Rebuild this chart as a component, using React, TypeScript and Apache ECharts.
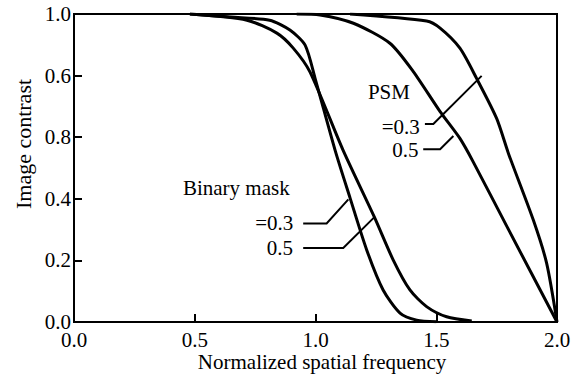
import React, { useEffect, useRef } from "react";
import * as echarts from "echarts";

const FONT = "Liberation Serif";
const FS = 21;

const xTickLabels = ["0.0", "0.5", "1.0", "1.5", "2.0"];
const yTickLabels = ["0.0", "0.2", "0.4", "0.8", "0.6", "1.0"];

const binary03X = [0.48, 0.65, 0.81, 0.894, 0.957, 0.998, 1.081, 1.143, 1.212, 1.28, 1.35, 1.419, 1.5];
const binary03Y = [1.0, 0.99, 0.98, 0.948, 0.899, 0.792, 0.558, 0.403, 0.234, 0.104, 0.029, 0.006, 0.001];

const binary05X = [0.48, 0.716, 0.84, 0.907, 0.977, 1.114, 1.243, 1.322, 1.391, 1.46, 1.543, 1.647];
const binary05Y = [1.0, 0.98, 0.938, 0.89, 0.812, 0.558, 0.342, 0.201, 0.104, 0.05, 0.017, 0.003];

const psm05X = [0.922, 1.019, 1.157, 1.308, 1.405, 1.516, 1.598, 1.653, 1.8, 2.0];
const psm05Y = [1.0, 0.997, 0.97, 0.905, 0.813, 0.683, 0.596, 0.52, 0.299, 0.0];

const psm03X = [1.143, 1.46, 1.516, 1.598, 1.667, 1.75, 1.8, 1.902, 1.957, 2.0];
const psm03Y = [1.0, 0.977, 0.954, 0.889, 0.791, 0.661, 0.545, 0.331, 0.191, 0.0];

// annotation texts (data coords) and leader lines
const labelTexts = [
  { text: "Binary mask", at: [0.451, 0.435], align: "left" },
  { text: "=0.3", at: [0.908, 0.32], align: "right" },
  { text: "0.5", at: [0.907, 0.239], align: "right" },
  { text: "PSM", at: [1.217, 0.747], align: "left" },
  { text: "=0.3", at: [1.432, 0.634], align: "right" },
  { text: "0.5", at: [1.426, 0.558], align: "right" },
];
const leaders = [
  [[0.949, 0.32], [1.046, 0.32], [1.136, 0.398]],
  [[0.949, 0.24], [1.115, 0.24], [1.246, 0.342]],
  [[1.453, 0.643], [1.488, 0.643], [1.688, 0.799]],
  [[1.446, 0.561], [1.516, 0.561], [1.571, 0.604]],
];

const zip = (xs: number[], ys: number[]) => xs.map((x, i) => [x, ys[i]]);

export default function App() {
  const ref = useRef<HTMLDivElement>(null);
  useEffect(() => {
    const chart = echarts.init(ref.current!, null, { renderer: "svg" });
    const lineSeries = (name: string, xs: number[], ys: number[]) => ({
      name,
      type: "line",
      data: zip(xs, ys),
      showSymbol: false,
      symbol: "none",
      smooth: 0.25,
      lineStyle: { color: "#000", width: 3 },
      z: 3,
    });
    chart.setOption({
      animation: false,
      backgroundColor: "#fff",
      textStyle: { fontFamily: FONT },
      grid: {
        left: 74,
        right: 19,
        top: 14,
        bottom: 54,
        show: true,
        borderColor: "#000",
        borderWidth: 2,
        backgroundColor: "transparent",
      },
      xAxis: {
        type: "value",
        min: 0,
        max: 2,
        interval: 0.5,
        axisLine: { lineStyle: { color: "#000", width: 2 } },
        axisTick: { inside: true, length: 8, lineStyle: { color: "#000", width: 2 } },
        splitLine: { show: false },
        axisLabel: {
          color: "#000",
          fontFamily: FONT,
          fontSize: FS,
          lineHeight: 16,
          margin: 10,
          formatter: (v: number) => xTickLabels[Math.round(v / 0.5)] ?? "",
        },
      },
      yAxis: {
        type: "value",
        min: 0,
        max: 1,
        interval: 0.2,
        axisLine: { show: true, lineStyle: { color: "#000", width: 2 } },
        axisTick: { show: true, inside: true, length: 8, lineStyle: { color: "#000", width: 2 } },
        splitLine: { show: false },
        axisLabel: {
          color: "#000",
          fontFamily: FONT,
          fontSize: FS,
          lineHeight: 16,
          margin: 3,
          formatter: (v: number) => yTickLabels[Math.round(v / 0.2)] ?? "",
        },
      },
      series: [
        lineSeries("Binary mask σ=0.3", binary03X, binary03Y),
        lineSeries("Binary mask σ=0.5", binary05X, binary05Y),
        lineSeries("PSM σ=0.3", psm03X, psm03Y),
        lineSeries("PSM σ=0.5", psm05X, psm05Y),
      ],
    });

    const px = (p: number[]) => chart.convertToPixel({ gridIndex: 0 }, p) as number[];
    const graphic: any[] = [];
    const textStyle = (text: string, align: string) => ({
      text,
      fill: "#000",
      fontFamily: FONT,
      fontSize: FS,
      textAlign: align,
      textVerticalAlign: "middle",
    });
    labelTexts.forEach((l) => {
      const [x, y] = px(l.at);
      graphic.push({ type: "text", x, y, style: textStyle(l.text, l.align), z: 10 });
    });
    leaders.forEach((pts) => {
      graphic.push({
        type: "polyline",
        shape: { points: pts.map(px) },
        style: { stroke: "#000", lineWidth: 2, fill: null },
        z: 10,
      });
    });
    graphic.push({
      type: "text",
      x: 23,
      y: 144,
      rotation: Math.PI / 2,
      style: { ...textStyle("Image contrast", "center"), fontSize: 22 },
    });
    graphic.push({
      type: "text",
      x: 322,
      y: 362,
      style: textStyle("Normalized spatial frequency", "center"),
    });
    chart.setOption({ graphic });

    return () => chart.dispose();
  }, []);
  return <div ref={ref} style={{ width: 576, height: 376, position: "absolute", left: 0, top: 0 }} />;
}
